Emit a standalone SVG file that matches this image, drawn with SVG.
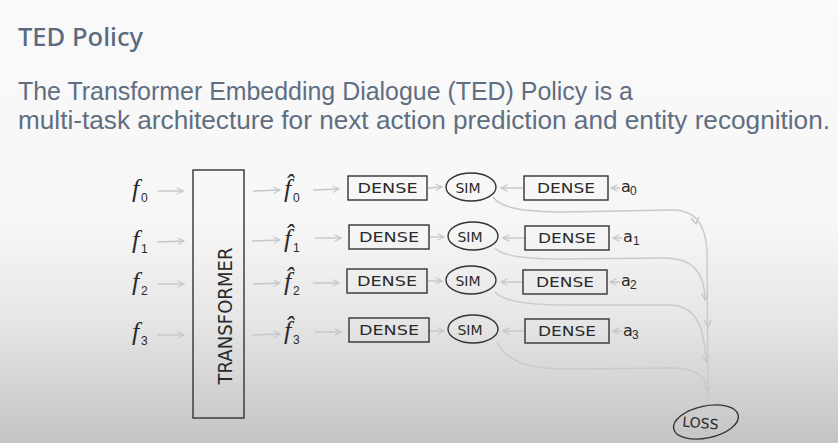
<svg xmlns="http://www.w3.org/2000/svg" width="838" height="443" viewBox="0 0 838 443">
<defs>
<linearGradient id="bg" x1="0" y1="0" x2="0" y2="1">
<stop offset="0" stop-color="#f9f9f9"/>
<stop offset="0.5" stop-color="#f7f7f7"/>
<stop offset="0.72" stop-color="#e6e6e6"/>
<stop offset="1" stop-color="#c4c4c4"/>
</linearGradient>
<marker id="ah" viewBox="0 0 10 10" refX="9" refY="5" markerWidth="8" markerHeight="8" orient="auto" markerUnits="userSpaceOnUse">
<path d="M1,1 L9,5 L1,9" fill="none" stroke="#c3c7ca" stroke-width="1.4"/>
</marker>
</defs>
<style>
.title{font-family:"Noto Sans","Open Sans",sans-serif;font-size:25px;font-weight:500;fill:#5b6a7e}
.desc{font-family:"Liberation Sans","Noto Sans",sans-serif;font-size:25px;fill:#5f6e81}
.hand{font-family:"DejaVu Sans","Liberation Sans",sans-serif;fill:#2a2a2a}
.sym{font-family:"Liberation Serif",serif;font-style:italic;font-size:26px;fill:#2a2a2a}
.sub{font-family:"Liberation Sans",sans-serif;font-size:12px;fill:#2a2a2a}
.box{fill:none;stroke:#333;stroke-width:1.4}
.lbl{font-family:"DejaVu Sans","Liberation Sans",sans-serif;font-size:14px;fill:#2a2a2a;text-anchor:middle}
.arr{fill:none;stroke:#c3c7ca;stroke-width:1.4;marker-end:url(#ah)}
.cur{fill:none;stroke:#c6cacd;stroke-width:1.4}
.chev{fill:none;stroke:#c3c7ca;stroke-width:1.4}
</style>
<rect x="0" y="0" width="838" height="443" fill="url(#bg)"/>
<text class="title" x="18" y="46" textLength="125" lengthAdjust="spacingAndGlyphs">TED Policy</text>
<text class="desc" x="18" y="100" textLength="615" lengthAdjust="spacingAndGlyphs">The Transformer Embedding Dialogue (TED) Policy is a</text>
<text class="desc" x="18" y="129" textLength="812" lengthAdjust="spacingAndGlyphs">multi-task architecture for next action prediction and entity recognition.</text>

<g id="connectors">
<path class="arr" d="M158,191 L183,191"/>
<path class="arr" d="M157,242 L184,241"/>
<path class="arr" d="M158,284 L184,284"/>
<path class="arr" d="M157,335 L184,335"/>
<path class="arr" d="M253,191 L280,190"/>
<path class="arr" d="M252,241 L280,240"/>
<path class="arr" d="M253,284 L280,283"/>
<path class="arr" d="M252,335 L280,334"/>
<path class="arr" d="M313,190 L339,189"/>
<path class="arr" d="M315,238 L341,238"/>
<path class="arr" d="M313,283 L339,283"/>
<path class="arr" d="M315,332 L341,332"/>
<path class="arr" d="M428,188 L442,187"/>
<path class="arr" d="M430,237 L444,237"/>
<path class="arr" d="M428,281 L442,281"/>
<path class="arr" d="M430,331 L444,331"/>
<path class="arr" d="M523,188 L501,188"/>
<path class="arr" d="M525,238 L503,238"/>
<path class="arr" d="M523,282 L501,282"/>
<path class="arr" d="M525,331 L503,331"/>
<path class="arr" d="M620,188 L611,188"/>
<path class="arr" d="M622,238 L613,238"/>
<path class="arr" d="M620,282 L610,282"/>
<path class="arr" d="M622,331 L613,331"/>
<path class="cur" d="M493,197 C500,207 520,212 565,212 L672,210 C694,210 705,222 707,250 L708,405"/>
<path class="chev" d="M691,218 L696,224 L699,217"/>
<path class="chev" d="M704,320 L708,327 L711,320"/>
<path class="cur" marker-end="url(#ah)" d="M495,248 C503,256 522,259 565,259 L665,258 C692,258 705,272 705,300"/>
<path class="cur" marker-end="url(#ah)" d="M495,292 C503,301 525,305 570,305 L668,305 C694,305 704,322 706,362"/>
<path class="cur" marker-end="url(#ah)" d="M497,342 C506,362 530,370 575,369 L672,368 C696,368 707,376 708,392"/>
</g>

<g id="f0"><text class="sym" x="132" y="197">f</text><text class="sub" x="141" y="202">0</text></g>
<g id="f1"><text class="sym" x="132" y="248">f</text><text class="sub" x="141" y="253">1</text></g>
<g id="f2"><text class="sym" x="132" y="290">f</text><text class="sub" x="141" y="295">2</text></g>
<g id="f3"><text class="sym" x="132" y="340">f</text><text class="sub" x="141" y="345">3</text></g>

<g id="transformer">
<rect class="box" x="193" y="170" width="51" height="248"/>
<text class="hand" font-size="19" text-anchor="middle" transform="translate(232,316) rotate(-90)" textLength="137" lengthAdjust="spacingAndGlyphs">TRANSFORMER</text>
</g>

<g id="fh0"><text class="sym" x="284" y="197">f̂</text><text class="sub" x="293" y="202">0</text></g>
<g id="fh1"><text class="sym" x="284" y="247">f̂</text><text class="sub" x="293" y="252">1</text></g>
<g id="fh2"><text class="sym" x="284" y="290">f̂</text><text class="sub" x="293" y="295">2</text></g>
<g id="fh3"><text class="sym" x="284" y="339">f̂</text><text class="sub" x="293" y="344">3</text></g>

<g id="dense0"><rect class="box" x="348" y="176" width="79" height="24"/><text class="lbl" x="387.5" y="193" textLength="60" lengthAdjust="spacingAndGlyphs">DENSE</text></g>
<g id="dense1"><rect class="box" x="349" y="225" width="80" height="24"/><text class="lbl" x="389" y="242" textLength="60" lengthAdjust="spacingAndGlyphs">DENSE</text></g>
<g id="dense2"><rect class="box" x="347" y="269" width="80" height="24"/><text class="lbl" x="387" y="286" textLength="60" lengthAdjust="spacingAndGlyphs">DENSE</text></g>
<g id="dense3"><rect class="box" x="349" y="318" width="80" height="24"/><text class="lbl" x="389" y="335" textLength="60" lengthAdjust="spacingAndGlyphs">DENSE</text></g>

<g id="sim0"><ellipse class="box" cx="471" cy="187" rx="25" ry="14"/><text class="lbl" x="468" y="193" font-size="15">SIM</text></g>
<g id="sim1"><ellipse class="box" cx="473" cy="236" rx="25" ry="14"/><text class="lbl" x="470" y="242" font-size="15">SIM</text></g>
<g id="sim2"><ellipse class="box" cx="471" cy="280" rx="25" ry="14"/><text class="lbl" x="468" y="286" font-size="15">SIM</text></g>
<g id="sim3"><ellipse class="box" cx="473" cy="329" rx="25" ry="14"/><text class="lbl" x="470" y="335" font-size="15">SIM</text></g>

<g id="dense_a0"><rect class="box" x="524" y="176" width="84" height="24"/><text class="lbl" x="566" y="193" textLength="58" lengthAdjust="spacingAndGlyphs">DENSE</text></g>
<g id="dense_a1"><rect class="box" x="525" y="226" width="84" height="24"/><text class="lbl" x="567" y="243" textLength="58" lengthAdjust="spacingAndGlyphs">DENSE</text></g>
<g id="dense_a2"><rect class="box" x="523" y="270" width="84" height="24"/><text class="lbl" x="565" y="287" textLength="58" lengthAdjust="spacingAndGlyphs">DENSE</text></g>
<g id="dense_a3"><rect class="box" x="525" y="319" width="84" height="24"/><text class="lbl" x="567" y="336" textLength="58" lengthAdjust="spacingAndGlyphs">DENSE</text></g>

<g id="a0"><text class="hand" x="621" y="192" font-size="16">a</text><text class="sub" x="630" y="195">0</text></g>
<g id="a1"><text class="hand" x="623" y="242" font-size="16">a</text><text class="sub" x="633" y="245">1</text></g>
<g id="a2"><text class="hand" x="621" y="286" font-size="16">a</text><text class="sub" x="630" y="289">2</text></g>
<g id="a3"><text class="hand" x="623" y="336" font-size="16">a</text><text class="sub" x="632" y="339">3</text></g>

<g id="loss">
<ellipse class="box" cx="706" cy="422" rx="33" ry="16" transform="rotate(-12 706 422)"/>
<text class="lbl" x="700" y="428" font-size="13" transform="rotate(5 700 428)">LOSS</text>
</g>
</svg>
